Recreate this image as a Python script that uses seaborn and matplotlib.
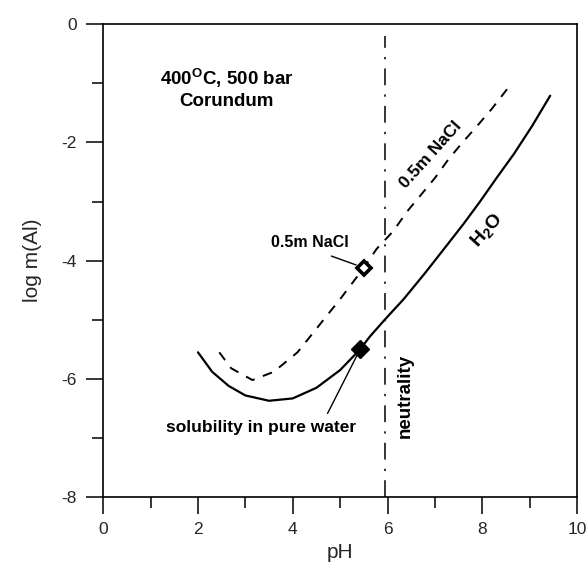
import numpy as np
import pandas as pd
import seaborn as sns
import matplotlib.pyplot as plt

# solubility of corundum
ph_water = [2.0, 2.3, 2.65, 3.0, 3.5, 4.0, 4.5, 5.0, 5.42, 5.63, 5.95, 6.34, 6.8, 7.25, 7.6, 7.95, 8.3, 8.66, 9.05, 9.43]
logm_water = [-5.55, -5.88, -6.12, -6.28, -6.37, -6.33, -6.15, -5.85, -5.5, -5.28, -4.99, -4.65, -4.2, -3.74,
              -3.38, -3.0, -2.6, -2.2, -1.72, -1.21]

ph_nacl = [2.45, 2.7, 3.15, 3.6, 4.1, 4.5, 5.0, 5.5, 5.77, 6.12, 6.41, 6.69, 7.0, 7.28, 7.57, 7.88, 8.2, 8.52]
logm_nacl = [-5.55, -5.82, -6.02, -5.88, -5.55, -5.15, -4.65, -4.12, -3.8, -3.5, -3.17, -2.9, -2.6, -2.29,
             -2.01, -1.73, -1.43, -1.1]

# measured points
pt_water = (5.42, -5.5)
pt_nacl = (5.5, -4.12)

neutral_ph = 5.95

sns.set_theme(style='ticks')
plt.rcParams['font.family'] = ['Liberation Sans', 'DejaVu Sans']
plt.rcParams['mathtext.fontset'] = 'custom'
plt.rcParams['mathtext.rm'] = 'Liberation Sans'
plt.rcParams['mathtext.bf'] = 'Liberation Sans:bold'
plt.rcParams['axes.unicode_minus'] = False

fig = plt.figure(figsize=(5.86, 5.63), dpi=100)
ax = fig.add_axes([0.176, 0.117, 0.809, 0.84])

df_w = pd.DataFrame({'pH': ph_water, 'logm': logm_water})
df_n = pd.DataFrame({'pH': ph_nacl, 'logm': logm_nacl})

sns.lineplot(data=df_w, x='pH', y='logm', sort=False, estimator=None, color='black', lw=1.6, ax=ax)
sns.lineplot(data=df_n, x='pH', y='logm', sort=False, estimator=None, color='black', lw=1.4, ax=ax)
ax.lines[-1].set_dashes((5, 4.5))

ax.plot([neutral_ph, neutral_ph], [-8, -0.2], color='black', lw=1.1, dashes=(11, 6, 1.5, 6))

ax.plot(*pt_water, marker='D', ms=9.5, color='black', mec='black', ls='none')
ax.plot(*pt_nacl, marker='D', ms=7, mfc='white', mec='black', mew=2.6, ls='none')

ax.set_xlim(0, 10)
ax.set_ylim(-8, 0)
ax.set_xticks(np.arange(0, 11, 2))
ax.set_xticks(np.arange(1, 10, 2), minor=True)
ax.set_yticks(np.arange(-8, 1, 2))
ax.set_yticks(np.arange(-7, 0, 2), minor=True)
ax.tick_params(which='major', length=12, width=1.1, labelsize=12.5, direction='out', color='black')
ax.tick_params(which='minor', length=8, width=1.1, direction='out', color='black')
ax.tick_params(axis='x', pad=6)
ax.tick_params(axis='y', pad=7)
for s in ax.spines.values():
    s.set_linewidth(1.2)
    s.set_color('black')

ax.set_xlabel('pH', fontsize=15, labelpad=4)
ax.set_ylabel('log m(Al)', fontsize=15, labelpad=14)

bold = dict(fontweight='bold', color='black')
ax.text(2.6, -1.08, '400$^{\\mathbf{O}}$C, 500 bar\nCorundum', ha='center', va='center',
        fontsize=13.5, linespacing=1.2, **bold)
ax.annotate('0.5m NaCl', xy=pt_nacl, xytext=(3.55, -3.7), ha='left', va='center', fontsize=11.5,
            arrowprops=dict(arrowstyle='-', color='black', lw=1, relpos=(0.57, 0), shrinkA=5, shrinkB=6),
            **bold)
ax.annotate('solubility in pure water', xy=pt_water, xytext=(1.33, -6.83), ha='left', va='center',
            fontsize=12.5, arrowprops=dict(arrowstyle='-', color='black', lw=1, relpos=(0.83, 1),
                                          shrinkA=3, shrinkB=5), **bold)
ax.text(6.92, -2.2, '0.5m NaCl', rotation=48, ha='center', va='center', fontsize=12.5, **bold)
ax.text(8.11, -3.5, 'H$_\\mathbf{2}$O', rotation=48, ha='center', va='center', fontsize=14, **bold)
ax.text(6.38, -6.28, 'neutrality', rotation=90, ha='center', va='center', fontsize=13.5, **bold)

fig.savefig('out.png', dpi=100)
